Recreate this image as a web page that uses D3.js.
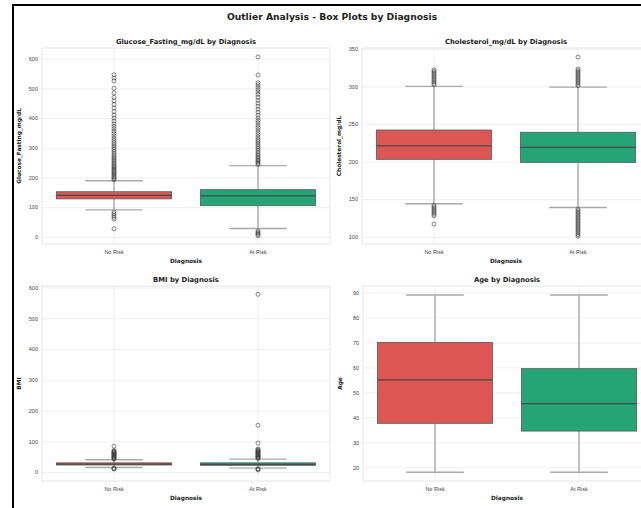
<!DOCTYPE html>
<html lang="en">
<head>
<meta charset="UTF-8">
<title>Outlier Analysis</title>
<script src="https://cdn.jsdelivr.net/npm/d3@7"></script>
<style>
  body { margin: 0; background: #fff; }
  svg { display: block; font-family: "DejaVu Sans", sans-serif; }
  .tick text { fill: #444; font-size: 5.5px; }
  .grid line { stroke: #ebebeb; stroke-width: 0.8; }
  .grid path, .axis path, .axis line { display: none; }
</style>
</head>
<body>
<svg id="chart" width="641" height="508"></svg>
<script>
// categories and colours
const groups = ['No Risk', 'At Risk'];
const groupColors = ['#dc5653', '#25a577'];

// box stats per group: [low whisker, q1, median, q3, high whisker]
const glucoseStats = [[91, 128, 140, 152, 189], [28, 105, 138, 159, 240]];
const cholesterolStats = [[144, 203, 221, 242, 300], [139, 199, 219, 239, 299]];
const bmiStats = [[15, 23, 26, 30, 40], [13, 22, 25, 30, 42]];
const ageStats = [[18, 37.6, 55, 70, 89], [18, 34.5, 45.5, 59.5, 89]];

// outliers per group
const glucoseOutliers = [
  [192, 196, 200, 204, 208, 212, 216, 220, 224, 228, 232, 236, 240, 245, 250, 255, 260, 265, 270, 276,
   282, 288, 294, 300, 306, 312, 318, 325, 332, 340, 348, 356, 364, 372, 380, 390, 400, 410, 422, 434,
   446, 458, 470, 485, 500, 525, 535, 546, 60, 66, 72, 78, 84, 27],
  [244, 248, 252, 256, 260, 265, 270, 275, 280, 286, 292, 298, 304, 310, 316, 322, 328, 336, 344, 352,
   360, 368, 376, 384, 392, 400, 410, 420, 430, 440, 450, 460, 470, 480, 488, 496, 504, 512, 519, 545,
   606, 4, 8, 12, 16, 20]
];
const cholesterolOutliers = [
  [302, 304, 306, 308, 310, 312, 314, 316, 318, 320, 322, 142, 140, 138, 136, 134, 132, 130, 128, 117],
  [301, 303, 305, 307, 309, 311, 313, 315, 317, 319, 321, 323, 339,
   137, 135, 133, 131, 129, 127, 125, 123, 121, 119, 117, 115, 113, 111, 109, 107, 105, 103, 101]
];
const bmiOutliers = [
  [42, 44, 46, 48, 50, 52, 54, 56, 58, 60, 62, 64, 66, 68, 70, 84, 13, 11, 10],
  [44, 46, 48, 50, 52, 54, 56, 58, 60, 62, 64, 66, 68, 70, 72, 75, 94, 152, 578, 11, 9, 7]
];
const ageOutliers = [[], []];

// y ticks
const glucoseTicks = [0, 100, 200, 300, 400, 500, 600];
const cholesterolTicks = [100, 150, 200, 250, 300, 350];
const bmiTicks = [0, 100, 200, 300, 400, 500, 600];
const ageTicks = [20, 30, 40, 50, 60, 70, 80, 90];

const panels = [
  { title: 'Glucose_Fasting_mg/dL by Diagnosis', ylabel: 'Glucose_Fasting_mg/dL',
    stats: glucoseStats, outliers: glucoseOutliers, ticks: glucoseTicks, ylim: [-24, 636],
    x0: 42, x1: 330, y0: 48, y1: 244 },
  { title: 'Cholesterol_mg/dL by Diagnosis', ylabel: 'Cholesterol_mg/dL',
    stats: cholesterolStats, outliers: cholesterolOutliers, ticks: cholesterolTicks, ylim: [90.5, 351],
    x0: 362, x1: 650, y0: 48, y1: 244 },
  { title: 'BMI by Diagnosis', ylabel: 'BMI',
    stats: bmiStats, outliers: bmiOutliers, ticks: bmiTicks, ylim: [-29, 605],
    x0: 42, x1: 330, y0: 286, y1: 481 },
  { title: 'Age by Diagnosis', ylabel: 'Age',
    stats: ageStats, outliers: ageOutliers, ticks: ageTicks, ylim: [14.5, 92.6],
    x0: 363, x1: 651, y0: 286, y1: 481 }
];

const svg = d3.select('#chart');

// frame round the figure (left and top edges visible)
svg.append('path')
  .attr('d', 'M13,508 V5 H641')
  .attr('fill', 'none')
  .attr('stroke', '#000')
  .attr('stroke-width', 2);

svg.append('text')
  .attr('x', 332).attr('y', 20)
  .attr('text-anchor', 'middle')
  .attr('font-size', 9.2).attr('font-weight', 'bold')
  .attr('fill', '#222')
  .text('Outlier Analysis - Box Plots by Diagnosis');

panels.forEach(p => {
  const x = d3.scaleBand().domain(groups).range([p.x0, p.x1]);
  const y = d3.scaleLinear().domain(p.ylim).range([p.y1, p.y0]);
  const bw = x.bandwidth();
  const g = svg.append('g');

  // horizontal grid
  g.append('g').attr('class', 'grid')
    .attr('transform', `translate(${p.x0},0)`)
    .call(d3.axisLeft(y).tickValues(p.ticks).tickSize(-(p.x1 - p.x0)).tickFormat(''));
  // vertical grid at categories
  g.append('g').attr('class', 'grid')
    .attr('transform', `translate(${-bw / 2},${p.y1})`)
    .call(d3.axisBottom(x).tickSize(-(p.y1 - p.y0)).tickFormat(''))
    .attr('transform', `translate(0,${p.y1})`);

  // axes frame
  g.append('rect')
    .attr('x', p.x0).attr('y', p.y0)
    .attr('width', p.x1 - p.x0).attr('height', p.y1 - p.y0)
    .attr('fill', 'none').attr('stroke', '#dedede').attr('stroke-width', 0.8);

  // tick labels
  g.append('g').attr('class', 'axis')
    .attr('transform', `translate(${p.x0},0)`)
    .call(d3.axisLeft(y).tickValues(p.ticks).tickSize(0).tickPadding(4));
  g.append('g').attr('class', 'axis')
    .attr('transform', `translate(0,${p.y1})`)
    .call(d3.axisBottom(x).tickSize(0).tickPadding(6));

  // boxes
  groups.forEach((name, i) => {
    const [lo, q1, med, q3, hi] = p.stats[i];
    const cx = x(name) + bw / 2;
    const w = bw * 0.8;
    const capW = w / 2;
    const whisk = g.append('g').attr('stroke', '#a9a9a9').attr('stroke-width', 1.4);
    whisk.append('line').attr('x1', cx).attr('x2', cx).attr('y1', y(hi)).attr('y2', y(q3));
    whisk.append('line').attr('x1', cx).attr('x2', cx).attr('y1', y(q1)).attr('y2', y(lo));
    whisk.append('line').attr('x1', cx - capW / 2).attr('x2', cx + capW / 2).attr('y1', y(hi)).attr('y2', y(hi));
    whisk.append('line').attr('x1', cx - capW / 2).attr('x2', cx + capW / 2).attr('y1', y(lo)).attr('y2', y(lo));

    g.append('rect')
      .attr('x', cx - w / 2).attr('y', y(q3))
      .attr('width', w).attr('height', Math.max(0.5, y(q1) - y(q3)))
      .attr('fill', groupColors[i])
      .attr('stroke', '#5a5a5a').attr('stroke-width', 0.8);
    g.append('line')
      .attr('x1', cx - w / 2).attr('x2', cx + w / 2)
      .attr('y1', y(med)).attr('y2', y(med))
      .attr('stroke', '#4a4a4a').attr('stroke-width', 1.2);

    g.selectAll(null).data(p.outliers[i]).enter().append('circle')
      .attr('cx', cx).attr('cy', d => y(d)).attr('r', 2)
      .attr('fill', 'none').attr('stroke', '#3a3a3a').attr('stroke-width', 0.6);
  });

  // titles and labels
  g.append('text')
    .attr('x', (p.x0 + p.x1) / 2).attr('y', p.y0 - 4)
    .attr('text-anchor', 'middle')
    .attr('font-size', 6.8).attr('font-weight', 'bold').attr('fill', '#222')
    .text(p.title);
  g.append('text')
    .attr('x', (p.x0 + p.x1) / 2).attr('y', p.y1 + 19)
    .attr('text-anchor', 'middle')
    .attr('font-size', 5.8).attr('font-weight', 'bold').attr('fill', '#222')
    .text('Diagnosis');
  g.append('text')
    .attr('transform', `translate(${p.x0 - 21},${(p.y0 + p.y1) / 2}) rotate(-90)`)
    .attr('text-anchor', 'middle')
    .attr('font-size', 5.8).attr('font-weight', 'bold').attr('fill', '#222')
    .text(p.ylabel);
});
</script>
</body>
</html>
